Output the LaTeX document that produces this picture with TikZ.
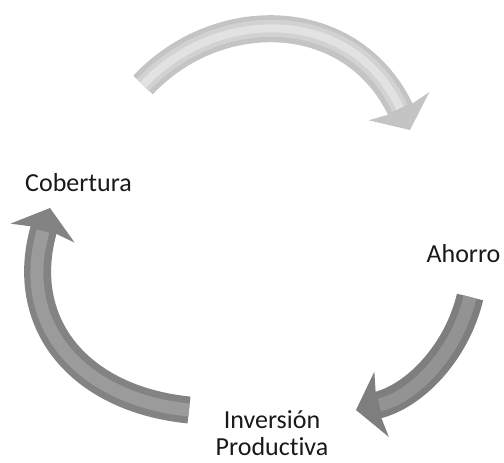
\documentclass[tikz,border=0pt]{standalone}
\usepackage{fontspec}
\setmainfont{Carlito}[Ligatures=NoCommon]
\usetikzlibrary{arrows.meta}
\definecolor{topout}{HTML}{C4C4C4}
\definecolor{topmid}{HTML}{D2D2D2}
\definecolor{tophi}{HTML}{E2E2E2}
\definecolor{rgtout}{HTML}{7E7E7E}
\definecolor{rgtmid}{HTML}{939393}
\definecolor{lftout}{HTML}{838383}
\definecolor{lftmid}{HTML}{9B9B9B}
\begin{document}
\begin{tikzpicture}[x=1pt,y=-1pt,
  lbl/.style={font=\fontsize{26}{27}\selectfont, inner sep=0pt, text=black!90},
  arrbody/.style={line width=27pt, -{Stealth[width=66pt,length=26pt,inset=5pt]}},
  arrshade/.style={line width=#1, shorten >=24pt},
]
\useasboundingbox (0,0) rectangle (504,463);
% named points
\coordinate (t0) at (143,85);
\coordinate (t1) at (218,5);
\coordinate (t2) at (353,7);
\coordinate (t3) at (410,130);
\coordinate (r0) at (470,297);
\coordinate (r1) at (457,352);
\coordinate (r2) at (414.6,397);
\coordinate (r3) at (356,410);
\coordinate (l0) at (189,410);
\coordinate (l1) at (79,399);
\coordinate (l2) at (16,323);
\coordinate (l3) at (50,208);
% top arrow
\draw[arrbody, topout] (t0) .. controls (t1) and (t2) .. (t3);
\draw[arrshade=17pt, topmid] (t0) .. controls (t1) and (t2) .. (t3);
\draw[arrshade=8pt, tophi] (t0) .. controls (t1) and (t2) .. (t3);
% right arrow
\draw[arrbody, rgtout] (r0) .. controls (r1) and (r2) .. (r3);
\draw[arrshade=13pt, rgtmid] (r0) .. controls (r1) and (r2) .. (r3);
% left arrow
\draw[arrbody, lftout] (l0) .. controls (l1) and (l2) .. (l3);
\draw[arrshade=13pt, lftmid] (l0) .. controls (l1) and (l2) .. (l3);
% labels
\node[lbl, anchor=base] (cob) at (78.5,191) {Cobertura};
\node[lbl, anchor=base] (aho) at (463.5,262) {Ahorro};
\node[lbl, anchor=base, align=center] (inv) at (272,455) {Inversión\\Productiva};
\end{tikzpicture}
\end{document}
